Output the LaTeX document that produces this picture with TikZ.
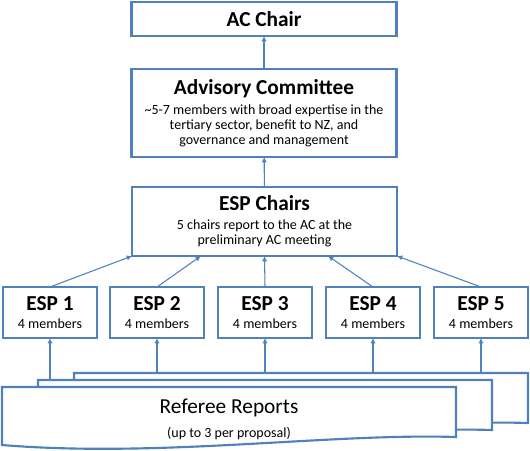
\documentclass[tikz,border=0pt]{standalone}
\usepackage{fontspec}
\setmainfont{Carlito}
\usetikzlibrary{calc,arrows.meta}

\definecolor{boxblue}{RGB}{79,129,189}
\newcommand{\headfont}{\fontsize{16}{19}\selectfont\bfseries}

\tikzset{
	panel/.style={draw=boxblue,fill=white,rectangle,line width=1.6pt,outer sep=0cm,inner sep=0pt,
		align=center,font=\fontsize{10.5}{11.25}\selectfont},
	sheet/.style={draw=boxblue,fill=white,line width=1.6pt,line join=miter},
	feed/.style={draw=boxblue,line width=0.8pt,-{Latex[length=4pt,width=4pt]}}
}

\begin{document}
\begin{tikzpicture}[x=0.75pt,y=-0.75pt,text badly centered]
	\useasboundingbox (0,0) rectangle (530,450);

	% top of the tree
	\begin{scope}[every node/.style={panel,minimum width=198.75pt}]
		\node[minimum height=25.5pt] (acchair) at (264,19) {\headfont AC Chair};
		\node[minimum height=66pt] (advisory) at (264,113) {{\headfont Advisory Committee}\\[3.75pt]
			\textasciitilde5-7 members with broad expertise in the\\
			tertiary sector, benefit to NZ, and\\
			governance and management};
		\node[minimum height=51.75pt] (espchairs) at (264.5,221.5) {{\headfont ESP Chairs}\\[3pt]
			5 chairs report to the AC at the\\
			preliminary AC meeting};
	\end{scope}

	% the five panels
	\foreach \i/\x in {1/50,2/157,3/265,4/373,5/481}
		\node[panel,minimum width=70.5pt,minimum height=38.25pt] (esp\i) at (\x,312.5)
			{{\headfont ESP \i}\\[2.25pt] 4 members};

	% stack of referee reports
	\foreach \dx/\dy in {72/-14,36/-7,0/0}
		\draw[sheet,shift={(\dx,\dy)}] (2,387) -- (456,387) -- (456,437)
			.. controls (330,433) and (160,458) .. (2,445) -- cycle;
	\coordinate (midtop) at (38,380);
	\coordinate (backtop) at (74,373);
	\node[font=\fontsize{16}{19}\selectfont,align=center] (reports) at (229,419)
		{Referee Reports\\[-1pt] {\fontsize{10.5}{12}\selectfont (up to 3 per proposal)}};

	% connectors
	\draw[feed] (advisory) -- (acchair);
	\draw[feed] (espchairs) -- (advisory);
	\draw[feed] (esp1.north) -- (espchairs.south west);
	\draw[feed] (esp2.north) -- ($(espchairs.south west)!0.26!(espchairs.south east)$);
	\draw[feed] (esp3.north) -- (espchairs.south);
	\draw[feed] (esp4.north) -- ($(espchairs.south west)!0.74!(espchairs.south east)$);
	\draw[feed] (esp5.north) -- (espchairs.south east);
	\draw[feed] (esp1 |- midtop) -- (esp1.south);
	\foreach \i in {2,3,4,5}
		\draw[feed] (esp\i |- backtop) -- (esp\i.south);

\end{tikzpicture}
\end{document}
